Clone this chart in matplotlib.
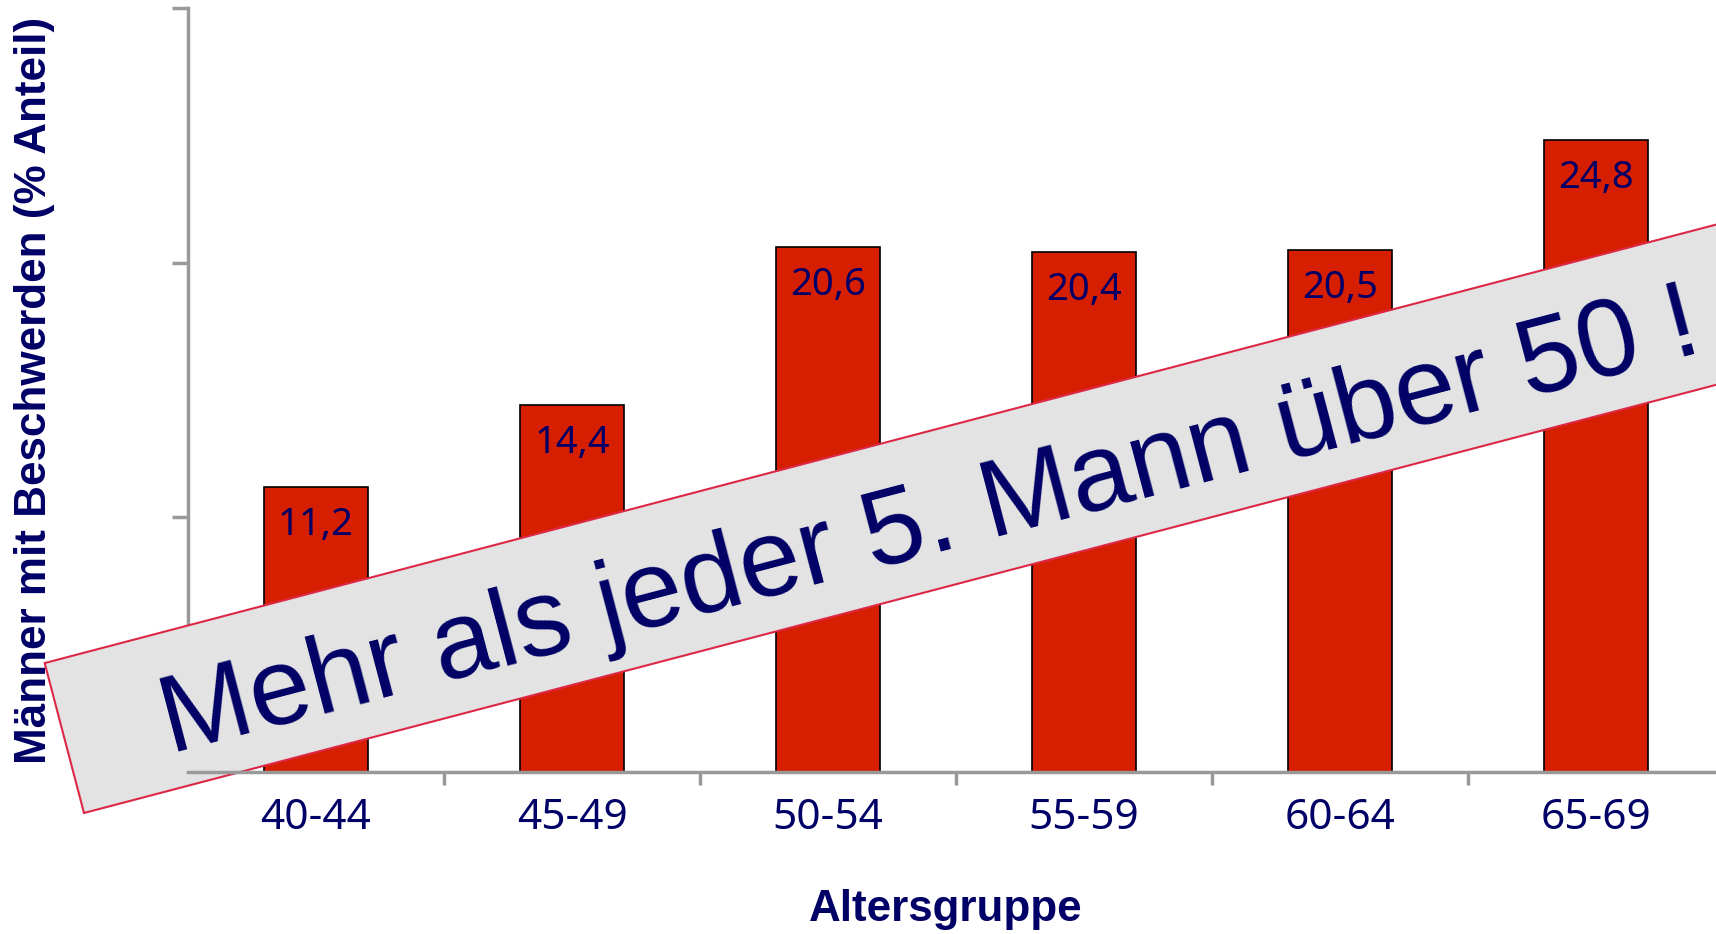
import numpy as np
import matplotlib
matplotlib.use("Agg")
import matplotlib.pyplot as plt
from matplotlib.patches import Rectangle
from matplotlib.transforms import Affine2D

# share of men with complaints per age group
age_groups = ["40-44", "45-49", "50-54", "55-59", "60-64", "65-69"]
share = [11.2, 14.4, 20.6, 20.4, 20.5, 24.8]
value_labels = ["11,2", "14,4", "20,6", "20,4", "20,5", "24,8"]
y_ticks = [0, 10, 20, 30]

banner_text = "Mehr als jeder 5. Mann über 50 !"
y_title = "Männer mit Beschwerden (% Anteil)"
x_title = "Altersgruppe"

W, H = 1716, 934
navy = "#000066"
bar_red = "#D61F00"
axis_grey = "#999999"

fig = plt.figure(figsize=(W / 100, H / 100), dpi=100)
ax = fig.add_axes([188 / W, 162 / H, 1536 / W, 764 / H])

x = np.arange(len(age_groups))
ax.bar(x, share, width=0.41, color=bar_red, edgecolor="black", linewidth=1.2, zorder=1)

for xi, v, lab in zip(x, share, value_labels):
    ax.annotate(lab, (xi, v), xytext=(0, -34.5), textcoords="offset points",
                ha="center", va="baseline", fontsize=27.5, color=navy,
                family="Noto Sans")

ax.set_xlim(-0.5, len(age_groups) - 0.5)
ax.set_ylim(0, 30)

for side in ["top", "right"]:
    ax.spines[side].set_visible(False)
for side in ["left", "bottom"]:
    ax.spines[side].set_color(axis_grey)
    ax.spines[side].set_linewidth(2.5)
ax.spines["bottom"].set_zorder(3)

ax.set_yticks(y_ticks)
ax.set_yticklabels([])
ax.tick_params(axis="y", direction="out", length=11.5, width=2.5, color=axis_grey)

ax.set_xticks(x)
ax.set_xticklabels(age_groups, fontsize=30.5, color=navy, family="Noto Sans")
ax.set_xticks(x[1:] - 0.5, minor=True)
ax.tick_params(axis="x", which="major", length=0, pad=18)
ax.tick_params(axis="x", which="minor", direction="out", length=9.5, width=2.5,
               color=axis_grey)

ax.set_ylabel(y_title, fontsize=31.7, fontweight="bold", color=navy,
              family="Liberation Sans", va="center")
ax.yaxis.set_label_coords((35 - 188) / 1536, 0.5)
ax.set_xlabel(x_title, fontsize=31.7, fontweight="bold", color=navy,
              family="Liberation Sans", va="top")
ax.xaxis.set_label_coords((946 - 188) / 1536, (772 - 889) / 764)

# tilted banner across the bars, laid out in pixel units
px = Affine2D().scale(1 / W, 1 / H) + fig.transFigure
angle = 14.7
banner = Rectangle((84, H - 813), 1900, 155, angle=angle, transform=px,
                   facecolor="#E3E3E3", edgecolor="#DC2846", linewidth=1.5,
                   clip_on=False, zorder=2.6)
ax.add_patch(banner)
ax.text(937, H - 553, banner_text, transform=px, rotation=angle,
        rotation_mode="anchor", ha="center", va="baseline", fontsize=79,
        color=navy, family="Liberation Sans", clip_on=False, zorder=2.7)

fig.savefig("out.png", dpi=100)
